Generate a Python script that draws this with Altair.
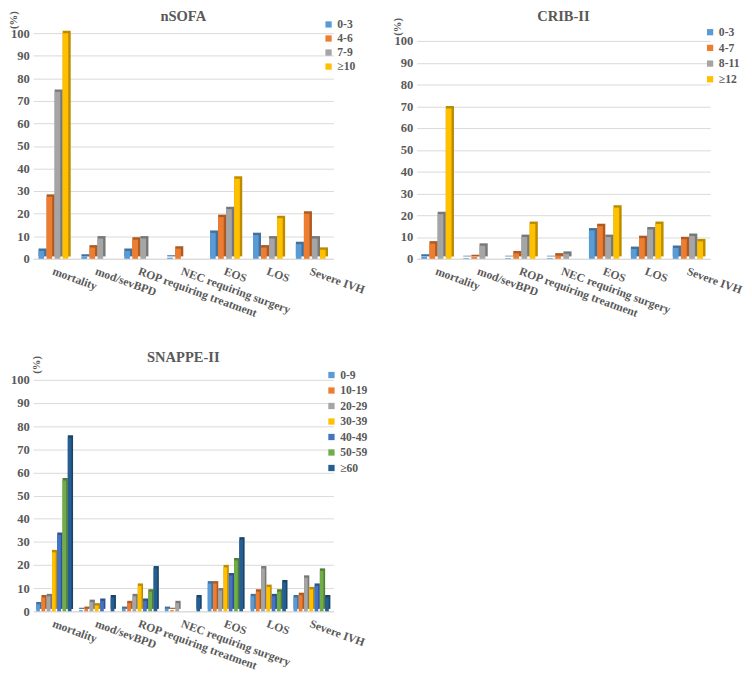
import altair as alt
import pandas as pd

categories = ["mortality", "mod/sevBPD", "ROP requiring treatment",
              "NEC requiring surgery", "EOS", "LOS", "Severe IVH"]

# nSOFA
nsofa_groups = ["0-3", "4-6", "7-9", "≥10"]
nsofa_0_3 = [3.5, 1.0, 3.5, 0.5, 11.5, 10.5, 6.5]
nsofa_4_6 = [27.5, 5.0, 8.5, 4.5, 18.5, 5.0, 20.0]
nsofa_7_9 = [74.0, 9.0, 9.0, 0.0, 22.0, 9.0, 9.0]
nsofa_ge10 = [100.0, 0.0, 0.0, 0.0, 35.5, 18.0, 4.0]

# CRIB-II
crib_groups = ["0-3", "4-7", "8-11", "≥12"]
crib_0_3 = [1.0, 0.3, 0.3, 0.3, 13.0, 4.5, 5.0]
crib_4_7 = [7.0, 0.8, 2.5, 1.5, 15.0, 9.5, 9.0]
crib_8_11 = [20.5, 6.0, 10.0, 2.3, 10.0, 13.5, 10.5]
crib_ge12 = [69.0, 0.0, 16.0, 0.0, 23.5, 16.0, 8.0]

# SNAPPE-II
snappe_groups = ["0-9", "10-19", "20-29", "30-39", "40-49", "50-59", "≥60"]
snappe_0_9 = [3.0, 0.5, 1.0, 1.0, 12.0, 6.5, 6.0]
snappe_10_19 = [6.0, 1.0, 3.5, 0.5, 12.0, 8.5, 7.0]
snappe_20_29 = [6.5, 4.0, 6.5, 3.5, 9.0, 18.5, 14.5]
snappe_30_39 = [25.5, 2.5, 11.0, 0.0, 19.0, 10.5, 9.5]
snappe_40_49 = [33.0, 4.5, 4.5, 0.0, 15.5, 6.5, 11.0]
snappe_50_59 = [56.5, 0.0, 8.5, 0.0, 22.0, 8.5, 17.5]
snappe_ge60 = [75.0, 6.0, 18.5, 6.0, 31.0, 12.5, 6.0]

front_colors = ["#5B9BD5", "#ED7D31", "#A5A5A5", "#FFC000", "#4472C4", "#70AD47", "#255E91"]
side_colors = ["#41719C", "#AE5A21", "#787878", "#BC8C00", "#2F528F", "#507E32", "#1A4468"]

FONT = "Liberation Serif"
TXT = "#595959"
SIDE = 0.3


def panel(title, groups, series, width, height, ymax, pad_inner, title_offset,
          ytitle_x, ytitle_y, legend_x, legend_y, legend_row):
    rows = []
    for g, vals in zip(groups, series):
        for c, v in zip(categories, vals):
            rows.append({"category": c, "group": g, "value": v})
    df = pd.DataFrame(rows)
    n = len(groups)
    x = alt.X("category:N", sort=categories,
              scale=alt.Scale(paddingInner=pad_inner, paddingOuter=pad_inner / 2),
              axis=alt.Axis(title=None, labelAngle=20, labelAlign="left",
                            labelBaseline="top", ticks=False, domainColor="#D9D9D9",
                            labelPadding=7, labelFont=FONT, labelFontWeight="bold",
                            labelFontSize=12, labelColor=TXT, labelLimit=300))
    y = alt.Y("value:Q", scale=alt.Scale(domain=[0, ymax], nice=False),
              axis=alt.Axis(values=list(range(0, 101, 10)), title="(%)",
                            titleAngle=270, titleX=ytitle_x, titleY=ytitle_y,
                            titleAlign="center", titleBaseline="middle",
                            titleFont=FONT, titleFontSize=11, titleFontWeight="bold",
                            titleColor=TXT, grid=True, gridColor="#D9D9D9",
                            domain=False, ticks=False, labelPadding=4,
                            labelFont=FONT, labelFontWeight="bold",
                            labelFontSize=13, labelColor=TXT))
    back = alt.Chart(df).mark_bar(yOffset=-2.5, y2Offset=0).encode(
        x=x, y=y,
        xOffset=alt.XOffset("group:N", sort=groups,
                            scale=alt.Scale(domain=groups, paddingInner=0, paddingOuter=0)),
        color=alt.Color("group:N", scale=alt.Scale(domain=groups, range=side_colors[:n]),
                        legend=None))
    front = alt.Chart(df).mark_bar().encode(
        x=x, y=y,
        xOffset=alt.XOffset("group:N", sort=groups,
                            scale=alt.Scale(domain=groups, paddingInner=SIDE,
                                            paddingOuter=SIDE / 2, align=0)),
        color=alt.Color("group:N", scale=alt.Scale(domain=groups, range=front_colors[:n]),
                        legend=alt.Legend(title=None, orient="none", legendX=legend_x,
                                          legendY=legend_y, symbolType="square",
                                          symbolSize=42, symbolStrokeWidth=0,
                                          labelFont=FONT, labelFontWeight="bold",
                                          labelFontSize=12, labelColor=TXT,
                                          rowPadding=legend_row, padding=0,
                                          labelOffset=3)))
    return alt.layer(back, front).resolve_scale(
        color="independent", xOffset="independent"
    ).properties(
        width=width, height=height,
        title=alt.TitleParams(title, font=FONT, fontSize=15, fontWeight="bold",
                              color=TXT, frame="group", anchor="middle",
                              offset=title_offset))


nsofa = panel("nSOFA", nsofa_groups, [nsofa_0_3, nsofa_4_6, nsofa_7_9, nsofa_ge10],
              310, 233, 100, 0.25, -14, -20, -14, 299, -15, 2.5)
crib = panel("CRIB-II", crib_groups, [crib_0_3, crib_4_7, crib_8_11, crib_ge12],
             303, 233, 103.6, 0.22, -7, -20, -7, 297, -7, 4.2)
snappe = panel("SNAPPE-II", snappe_groups,
               [snappe_0_9, snappe_10_19, snappe_20_29, snappe_30_39,
                snappe_40_49, snappe_50_59, snappe_ge60],
               310, 239, 100, 0.14, -10, 4, -16, 302, -11, 4)

top = alt.hconcat(nsofa, crib, spacing=26).resolve_scale(color="independent")
chart = alt.vconcat(top, snappe, spacing=32).resolve_scale(
    color="independent"
).properties(
    padding={"top": -10, "left": 0, "right": 0, "bottom": 0}
).configure_view(stroke=None)

chart.save("out.html", embed_options={"renderer": "svg", "actions": False})
